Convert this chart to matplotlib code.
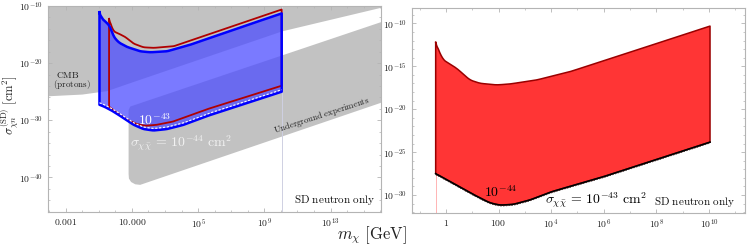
import numpy as np
import matplotlib
matplotlib.use("Agg")
import matplotlib.pyplot as plt
from matplotlib.ticker import FixedLocator, FixedFormatter

plt.rcParams['mathtext.fontset'] = 'cm'
plt.rcParams['font.family'] = ['DejaVu Serif']

# ---------------- data (log10 values) ----------------
# Left panel: excluded regions
cmb_lx = [-5, -4.07, -2.0, -0.5, 1.0, 10.09, 16.05, 17]
cmb_ly = [-25.8, -25.8, -25.5, -24.9, -23.4, -14.43, -10.32, -9.6]

ug_top_lx = [0.8, 0.9, 1.1, 17]
ug_top_ly = [-28.2, -27.6, -27.4, -11.9]
ug_bot_lx = [17, 1.5, 1.2, 0.95, 0.82, 0.8]
ug_bot_ly = [-26.0, -41.3, -41.2, -40.8, -40.2, -39.4]

# Left panel: sigma = 1e-44 (blue) region
blue_top_lx = [-0.96, -0.86, -0.62, -0.32, -0.12, 0.19, 0.70, 1.50, 2.11, 3.12, 4.5, 6.0, 8.0, 10.05]
blue_top_ly = [-11.09, -12.07, -12.67, -13.54, -15.3, -16.35, -17.16, -17.93, -18.1, -17.93, -16.8, -15.3, -13.3, -11.3]
blue_bot_lx = [-0.96, -0.62, -0.12, 0.49, 1.10, 1.70, 2.31, 3.12, 4.13, 5.75, 10.05]
blue_bot_ly = [-27.28, -27.68, -28.46, -29.6, -30.79, -31.54, -31.79, -31.54, -30.79, -29.04, -25.0]

# Left panel: sigma = 1e-43 (red) outline
red_top_lx = [-0.38, -0.27, -0.12, 0.19, 0.59, 1.10, 1.70, 2.31, 3.52, 6.0, 10.05]
red_top_ly = [-12.25, -13.25, -14.42, -14.82, -15.4, -16.58, -17.23, -17.33, -17.05, -14.6, -10.61]
red_bot_lx = [-0.38, 0.09, 0.70, 1.30, 1.81, 2.52, 3.52, 5.75, 10.05]
red_bot_ly = [-27.6, -28.7, -29.9, -30.67, -30.96, -30.79, -30.2, -27.86, -23.95]

# Right panel region
r_top_lx = [-0.39, -0.13, 0.41, 0.91, 1.29, 1.93, 2.43, 3.45, 4.71, 6.0, 10.04]
r_top_ly = [-12.21, -14.19, -15.23, -16.59, -16.98, -17.17, -17.06, -16.59, -15.63, -14.35, -10.31]
r_bot_lx = [-0.39, 0.41, 1.17, 1.67, 2.05, 2.56, 3.19, 4.02, 5.98, 10.04]
r_bot_ly = [-27.51, -28.87, -30.15, -30.92, -31.19, -31.10, -30.59, -29.62, -27.88, -23.84]

# ticks
L_xticks = [1e-3, 1e1, 1e5, 1e9, 1e13]
L_xlabels = [r'$0.001$', r'$10.000$', r'$10^{5}$', r'$10^{9}$', r'$10^{13}$']
L_yticks = [1e-40, 1e-30, 1e-20, 1e-10]
L_ylabels = [r'$10^{-40}$', r'$10^{-30}$', r'$10^{-20}$', r'$10^{-10}$']
R_xticks = [1, 1e2, 1e4, 1e6, 1e8, 1e10]
R_xlabels = [r'$1$', r'$100$', r'$10^{4}$', r'$10^{6}$', r'$10^{8}$', r'$10^{10}$']
R_yticks = [1e-30, 1e-25, 1e-20, 1e-15, 1e-10]
R_ylabels = [r'$10^{-30}$', r'$10^{-25}$', r'$10^{-20}$', r'$10^{-15}$', r'$10^{-10}$']


def P(a):
    return 10.0 ** np.asarray(a, dtype=float)


def smooth(lx, ly, n=200):
    lx = np.asarray(lx, float); ly = np.asarray(ly, float)
    xs = np.linspace(lx.min(), lx.max(), n)
    ys = np.interp(xs, lx, ly)
    k = 5
    ker = np.ones(k) / k
    pad = np.concatenate([np.full(k // 2, ys[0]), ys, np.full(k // 2, ys[-1])])
    ys2 = np.convolve(pad, ker, mode='valid')
    ys2[0] = ys[0]; ys2[-1] = ys[-1]
    return xs, ys2


fig = plt.figure(figsize=(7.47, 2.47), dpi=100)
axL = fig.add_axes([48 / 747, 35 / 247, 333 / 747, 206 / 247])
axR = fig.add_axes([412 / 747, 34 / 247, 333 / 747, 205 / 247])

gray = '#c2c2c2'
for ax in (axL, axR):
    ax.set_xscale('log'); ax.set_yscale('log')
    for s in ax.spines.values():
        s.set_color('#b4b4b4'); s.set_linewidth(0.8)
    ax.tick_params(which='both', direction='in', top=True, right=True, color='#b4b4b4',
                   labelsize=7, labelcolor='#222222', pad=3.5)
    ax.tick_params(which='major', length=3, width=0.6)
    ax.tick_params(which='minor', length=1.5, width=0.5)

# ---------------- Left panel ----------------
axL.set_xlim(10 ** -4.07, 10 ** 16.05)
axL.set_ylim(10 ** -46.05, 1e-10)

cx = list(cmb_lx) + [17, -5]
cy = list(cmb_ly) + [-9, -9]
axL.fill(P(cx), P(cy), color=gray, lw=0, zorder=1)
ux = list(ug_top_lx) + list(ug_bot_lx)
uy = list(ug_top_ly) + list(ug_bot_ly)
axL.fill(P(ux), P(uy), color=gray, lw=0, zorder=1)

axL.axvline(10 ** 10.09, color='#cfd0e2', lw=0.7, zorder=1.5)

btx, bty = smooth(blue_top_lx, blue_top_ly)
bbx, bby = smooth(blue_bot_lx, blue_bot_ly)
poly_x = np.concatenate([btx, bbx[::-1]])
poly_y = np.concatenate([bty, bby[::-1]])
axL.fill(P(poly_x), P(poly_y), color=(0.3, 0.3, 1.0), alpha=0.75, lw=0, zorder=2)

rtx, rty = smooth(red_top_lx, red_top_ly)
rbx, rby = smooth(red_bot_lx, red_bot_ly)
axL.plot(P(np.concatenate([rtx, rbx[::-1], rtx[:1]])), P(np.concatenate([rty, rby[::-1], rty[:1]])),
         color='#b00000', lw=1.3, zorder=3)
axL.plot(P(np.concatenate([btx, bbx[::-1], btx[:1]])), P(np.concatenate([bty, bby[::-1], bty[:1]])),
         color='#0000ff', lw=1.8, zorder=4)
axL.plot(P(bbx), P(bby + 0.35), color='white', lw=0.8, ls=(0, (2, 1.5)), zorder=4.5)

axL.xaxis.set_major_locator(FixedLocator(L_xticks))
axL.xaxis.set_major_formatter(FixedFormatter(L_xlabels))
axL.xaxis.set_minor_locator(FixedLocator([10.0 ** k for k in range(-4, 17)]))
axL.xaxis.set_minor_formatter(FixedFormatter([''] * 21))
axL.yaxis.set_major_locator(FixedLocator(L_yticks))
axL.yaxis.set_major_formatter(FixedFormatter(L_ylabels))
axL.yaxis.set_minor_locator(FixedLocator([10.0 ** k for k in range(-46, -9, 2)]))
axL.yaxis.set_minor_formatter(FixedFormatter([''] * 19))

axL.text(10 ** -2.86, 10 ** -22.0, r'$\mathrm{CMB}$', fontsize=6.8, ha='center', va='center', color='#222222', zorder=5)
axL.text(10 ** -2.62, 10 ** -23.8, r'$\mathrm{(protons)}$', fontsize=6.5, ha='center', va='center', color='#222222', zorder=5)
axL.text(10 ** 12.47, 10 ** -29.2, r'$\mathrm{Underground\ experiments}$', fontsize=6.3, ha='center', va='center',
         rotation=18, color='#222222', zorder=5)
axL.text(10 ** 2.35, 10 ** -29.9, r'$10^{-43}$', fontsize=10, ha='center', va='center', color='white', zorder=5)
axL.text(10 ** 0.9, 10 ** -33.95, r'$\sigma_{\chi\bar{\chi}}\,=\,10^{-44}\ \mathrm{cm}^2$', fontsize=10,
         ha='left', va='center', color='#f2f2f2', zorder=5)
axL.text(0.982, 0.058, r'$\mathrm{SD\ neutron\ only}$', transform=axL.transAxes, fontsize=8,
         ha='right', va='center', color='#111111', zorder=5)

# ---------------- Right panel ----------------
axR.set_xlim(10 ** -1.29, 10 ** 11.37)
axR.set_ylim(10 ** -32.1, 10 ** -8.2)

tx, ty = smooth(r_top_lx, r_top_ly)
bx, by = smooth(r_bot_lx, r_bot_ly)
axR.plot([P(r_bot_lx[0])] * 2, [P(-32.1), P(r_bot_ly[0])], color='#ffb4b4', lw=0.7, zorder=1)
axR.fill(P(np.concatenate([tx, bx[::-1]])), P(np.concatenate([ty, by[::-1]])), color='#ff3535', lw=0, zorder=2)
axR.plot(P(np.concatenate([tx, bx[::-1], tx[:1]])), P(np.concatenate([ty, by[::-1], ty[:1]])),
         color='#9a0000', lw=1.1, zorder=3)
axR.plot(P(bx), P(by), color='black', lw=1.2, zorder=4)
axR.plot(P(bx), P(by - 0.12), color='#222222', lw=0.5, ls=(0, (2, 2)), zorder=4)

axR.xaxis.set_major_locator(FixedLocator(R_xticks))
axR.xaxis.set_major_formatter(FixedFormatter(R_xlabels))
axR.xaxis.set_minor_locator(FixedLocator([10.0 ** k for k in range(-1, 12)]))
axR.xaxis.set_minor_formatter(FixedFormatter([''] * 13))
axR.yaxis.set_major_locator(FixedLocator(R_yticks))
axR.yaxis.set_major_formatter(FixedFormatter(R_ylabels))
axR.yaxis.set_minor_locator(FixedLocator([10.0 ** k for k in range(-32, -8)]))
axR.yaxis.set_minor_formatter(FixedFormatter([''] * 24))

axR.text(10 ** 2.09, 10 ** -29.73, r'$10^{-44}$', fontsize=10, ha='center', va='center', color='black', zorder=5)
axR.text(10 ** 3.76, 10 ** -30.55, r'$\sigma_{\chi\bar{\chi}}\,=\,10^{-43}\ \mathrm{cm}^2$', fontsize=10,
         ha='left', va='center', color='black', zorder=5)
axR.text(0.97, 0.055, r'$\mathrm{SD\ neutron\ only}$', transform=axR.transAxes, fontsize=8,
         ha='right', va='center', color='#111111', zorder=5)

fig.text(10 / 747, 1 - 105 / 247, r'$\sigma^{(\mathrm{SD})}_{\chi n}\ [\mathrm{cm}^2]$', rotation=90,
         fontsize=9, ha='center', va='center', color='#222222')
fig.text(372 / 747, 1 - 235 / 247, r'$m_\chi\ [\mathrm{GeV}]$', fontsize=12, ha='center', va='center',
         color='#222222')

fig.savefig('out.png', dpi=100)
